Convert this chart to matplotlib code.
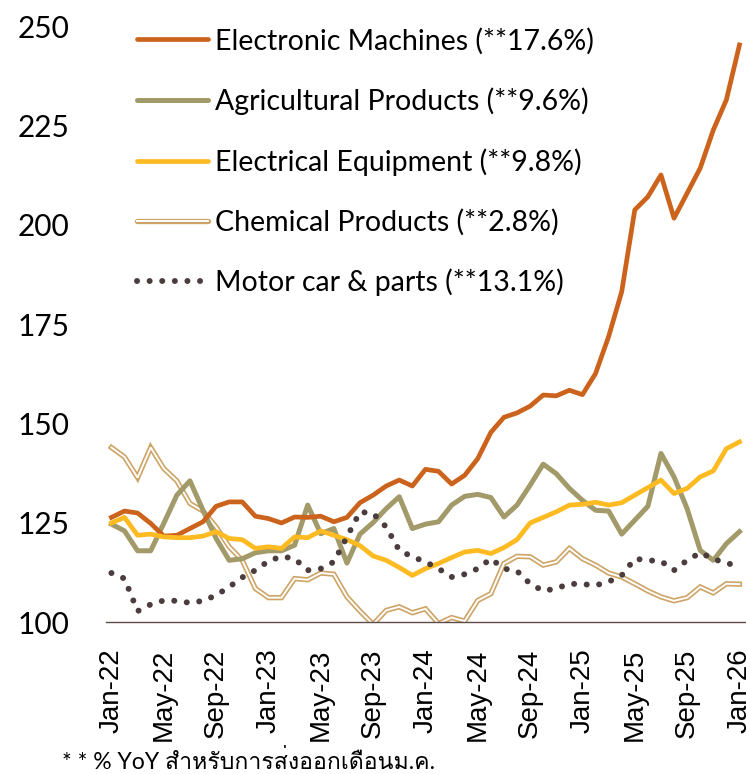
import numpy as np
import matplotlib
matplotlib.use("Agg")
import matplotlib.pyplot as plt
from matplotlib.lines import Line2D
from matplotlib.legend_handler import HandlerTuple
from matplotlib import font_manager
from matplotlib.ft2font import FT2Font

# monthly index values, Jan-22 .. Jan-26 (49 months)
electronic = [126.4, 128.0, 127.5, 124.9, 121.7, 121.9, 123.6, 125.3, 129.2, 130.3,
              130.3, 126.7, 126.1, 125.0, 126.5, 126.4, 126.7, 125.3, 126.4, 130.1,
              132.0, 134.3, 135.8, 134.3, 138.5, 138.0, 134.8, 137.0, 141.2, 147.8,
              151.6, 152.7, 154.4, 157.2, 157.0, 158.4, 157.3, 162.6, 171.9, 183.2,
              203.8, 207.1, 212.6, 201.7, 208.0, 214.3, 223.9, 231.5, 245.3]
agricultural = [124.7, 123.0, 118.0, 118.0, 124.9, 132.0, 135.6, 128.2, 121.1, 115.6,
                116.0, 117.5, 118.0, 118.0, 119.4, 129.5, 122.3, 123.6, 114.9, 122.2,
                125.1, 128.6, 131.6, 123.6, 124.7, 125.3, 129.5, 131.7, 132.2, 131.4,
                126.5, 129.5, 134.5, 139.8, 137.4, 133.7, 130.7, 128.2, 128.0, 122.2,
                125.7, 129.2, 142.5, 136.6, 128.6, 118.1, 115.6, 119.8, 122.8]
electrical = [125.0, 126.4, 121.9, 122.2, 121.5, 121.3, 121.3, 121.7, 122.8, 121.1,
              120.8, 118.6, 119.0, 118.6, 121.5, 121.3, 123.0, 121.9, 120.8, 119.3,
              116.7, 115.6, 113.8, 111.8, 113.5, 114.8, 116.3, 117.7, 118.1, 117.3,
              118.8, 120.8, 125.0, 126.4, 127.8, 129.5, 129.7, 130.2, 129.5, 130.1,
              132.0, 133.9, 135.8, 132.4, 133.7, 136.6, 138.1, 143.7, 145.4]
chemical = [144.0, 141.6, 136.4, 144.0, 138.7, 135.6, 129.9, 128.0, 124.0, 119.0,
            115.6, 108.5, 106.2, 106.2, 111.0, 110.7, 112.4, 112.1, 106.4, 102.8,
            99.5, 103.0, 103.9, 102.4, 103.4, 99.7, 101.2, 100.3, 105.5, 107.2,
            114.8, 116.6, 116.5, 114.4, 115.2, 118.6, 116.0, 114.4, 112.4, 111.4,
            109.7, 107.9, 106.4, 105.4, 106.2, 108.9, 107.4, 109.7, 109.6]
motor = [112.4, 111.0, 102.8, 104.5, 105.5, 105.4, 104.9, 105.4, 106.8, 108.9,
         111.3, 113.1, 115.4, 116.6, 116.0, 113.1, 113.5, 115.2, 121.5, 127.8,
         127.4, 124.0, 118.1, 116.5, 115.2, 113.5, 111.4, 112.1, 113.5, 116.0,
         113.5, 112.9, 109.7, 107.9, 108.5, 109.7, 109.6, 109.3, 110.2, 111.8,
         116.0, 115.6, 115.4, 113.1, 115.6, 117.5, 116.0, 114.8, 114.4]

tick_labels = ["Jan-22", "May-22", "Sep-22", "Jan-23", "May-23", "Sep-23", "Jan-24",
               "May-24", "Sep-24", "Jan-25", "May-25", "Sep-25", "Jan-26"]
yticks = [100, 125, 150, 175, 200, 225, 250]
names = ["Electronic Machines (**17.6%)", "Agricultural Products (**9.6%)",
         "Electrical Equipment (**9.8%)", "Chemical Products (**2.8%)",
         "Motor car & parts (**13.1%)"]
footnote = "* * % YoY สำหรับการส่งออกเดือนม.ค."

c_orange = "#CC631C"
c_khaki = "#A39A6A"
c_yellow = "#FDBA21"
c_tan = "#CDA466"
c_dots = "#4B3C3E"
dotted = (0, (0.01, 2.1))


def thai_family():
    # pick any installed font that has Thai glyphs
    for f in font_manager.fontManager.ttflist:
        try:
            if FT2Font(f.fname).get_char_index(0x0E2A):
                return f.name
        except Exception:
            pass
    return "DejaVu Sans"


plt.rcParams["font.family"] = ["Lato", "DejaVu Sans"]

x = np.arange(len(electronic))

fig = plt.figure(figsize=(7.46, 7.74), dpi=100)
ax = fig.add_axes([0.142, 0.196, 0.858, 0.770])

ax.plot(x, chemical, color=c_tan, lw=3.8, solid_joinstyle="miter", zorder=2)
ax.plot(x, chemical, color="white", lw=1.4, solid_joinstyle="miter", zorder=2.1)
ax.plot(x, agricultural, color=c_khaki, lw=3.6, zorder=3)
ax.plot(x, electronic, color=c_orange, lw=3.4, zorder=4)
ax.plot(x, electrical, color=c_yellow, lw=3.4, zorder=5)
ax.plot(x, motor, color=c_dots, lw=4.3, linestyle=dotted,
        dash_capstyle="round", zorder=6)

ax.set_xlim(-0.42, 48.5)
ax.set_ylim(100, 250)
ax.set_yticks(yticks)
ax.set_xticks(np.arange(0, 49, 4))
ax.set_xticklabels(tick_labels, rotation=90, fontsize=20,
                   family=["Liberation Sans", "DejaVu Sans"])
ax.tick_params(axis="y", length=0, pad=26, labelsize=21.5)
ax.tick_params(axis="x", length=0, pad=19)
for s in ["top", "right", "left"]:
    ax.spines[s].set_visible(False)
ax.spines["bottom"].set_color("#5C4B49")
ax.spines["bottom"].set_linewidth(1.0)

handles = [
    Line2D([], [], color=c_orange, lw=3.4, solid_capstyle="round"),
    Line2D([], [], color=c_khaki, lw=3.6, solid_capstyle="round"),
    Line2D([], [], color=c_yellow, lw=3.4, solid_capstyle="round"),
    (Line2D([], [], color=c_tan, lw=3.8, solid_capstyle="round"),
     Line2D([], [], color="white", lw=1.4)),
    Line2D([], [], color=c_dots, lw=4.3, linestyle=dotted, dash_capstyle="round"),
]
ax.legend(handles, names, loc="upper left", bbox_to_anchor=(0.03, 1.017),
          frameon=False, fontsize=20.5, handlelength=2.5, handletextpad=0.25,
          labelspacing=1.16, borderaxespad=0,
          handler_map={tuple: HandlerTuple(ndivide=1)})

fig.text(0.083, 0.007, footnote, fontsize=16.6, color="black",
         family=["Lato", thai_family(), "DejaVu Sans"])

fig.savefig("out.png", dpi=100)
